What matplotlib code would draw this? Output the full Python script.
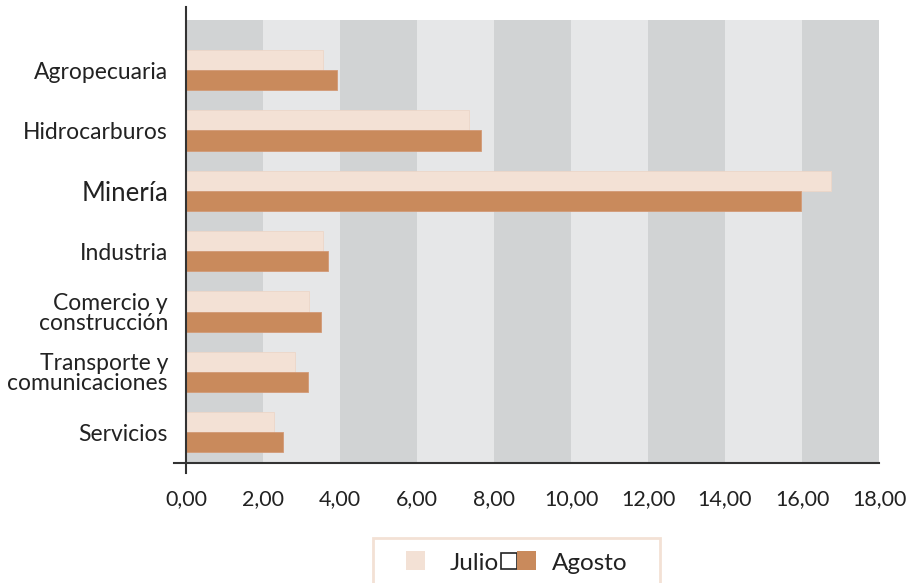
import numpy as np
import matplotlib.pyplot as plt
from matplotlib.patches import Rectangle

# --- Data ---
sectores = ["Agropecuaria", "Hidrocarburos", "Minería", "Industria",
            "Comercio y\nconstrucción", "Transporte y\ncomunicaciones", "Servicios"]
julio = [3.55, 7.35, 16.75, 3.55, 3.20, 2.84, 2.28]
agosto = [3.91, 7.65, 15.98, 3.70, 3.51, 3.18, 2.51]
x_ticks = [0, 2, 4, 6, 8, 10, 12, 14, 16, 18]

# --- Style ---
plt.rcParams["font.family"] = ["Lato", "DejaVu Sans"]
c_julio = "#f3e1d5"
c_agosto = "#c98a5c"
band_dark = "#d1d3d4"
band_light = "#e6e7e8"
axis_col = "#333333"
txt_col = "#222222"

fig = plt.figure(figsize=(9.09, 5.83), dpi=100)
ax = fig.add_axes([186 / 909, 1 - 463 / 583, (879 - 186) / 909, (463 - 20) / 583])

# alternating background bands
for i in range(len(x_ticks) - 1):
    ax.axvspan(x_ticks[i], x_ticks[i + 1], color=band_dark if i % 2 == 0 else band_light,
               lw=0, zorder=0)

y = np.arange(len(sectores))
h = 0.335
ax.barh(y - h / 2, julio, height=h, color=c_julio, edgecolor="#ecd6c8", linewidth=0.6, zorder=2)
ax.barh(y + h / 2, agosto, height=h, color=c_agosto, edgecolor="#d39a76", linewidth=0.6, zorder=2)

ax.set_xlim(0, 18)
ax.set_ylim(6.51, -0.83)
ax.set_xticks(x_ticks)
ax.set_xticklabels([f"{v:.2f}".replace(".", ",") for v in x_ticks], fontsize=15.5, color=txt_col)
ax.set_yticks(y)
ax.set_yticklabels(sectores, fontsize=16.5, color=txt_col, multialignment="right",
                   linespacing=0.95)
ax.get_yticklabels()[2].set_fontsize(18.5)
ax.tick_params(axis="both", length=0)
ax.tick_params(axis="x", pad=19)
ax.tick_params(axis="y", pad=13)
for s in ax.spines.values():
    s.set_visible(False)

# axis lines extending past the plot area
ax.plot([0, 0], [-10 / 443, 1 + 13 / 443], transform=ax.transAxes, color=axis_col,
        lw=1.5, clip_on=False, zorder=3)
ax.plot([-12 / 693, 1], [0, 0], transform=ax.transAxes, color=axis_col,
        lw=1.5, clip_on=False, zorder=3)

# --- Legend (drawn by hand to mimic the original) ---
W, H = 909, 583
def fr(x0, y0, w, hh, **kw):
    fig.patches.append(Rectangle((x0 / W, 1 - (y0 + hh) / H), w / W, hh / H,
                                 transform=fig.transFigure, **kw))

fr(373, 538, 287, 60, facecolor="white", edgecolor=c_julio, lw=2)
fr(406, 551, 19, 19, facecolor=c_julio, edgecolor="none")
fig.text(450 / W, 1 - 563 / H, "Julio", fontsize=17.5, va="center", ha="left", color=txt_col)
fr(501, 553, 16, 16, facecolor="white", edgecolor=txt_col, lw=1.2)
fr(517, 551, 19, 19, facecolor=c_agosto, edgecolor="none")
fig.text(552 / W, 1 - 563 / H, "Agosto", fontsize=17.5, va="center", ha="left", color=txt_col)

fig.savefig("out.png", dpi=100)
